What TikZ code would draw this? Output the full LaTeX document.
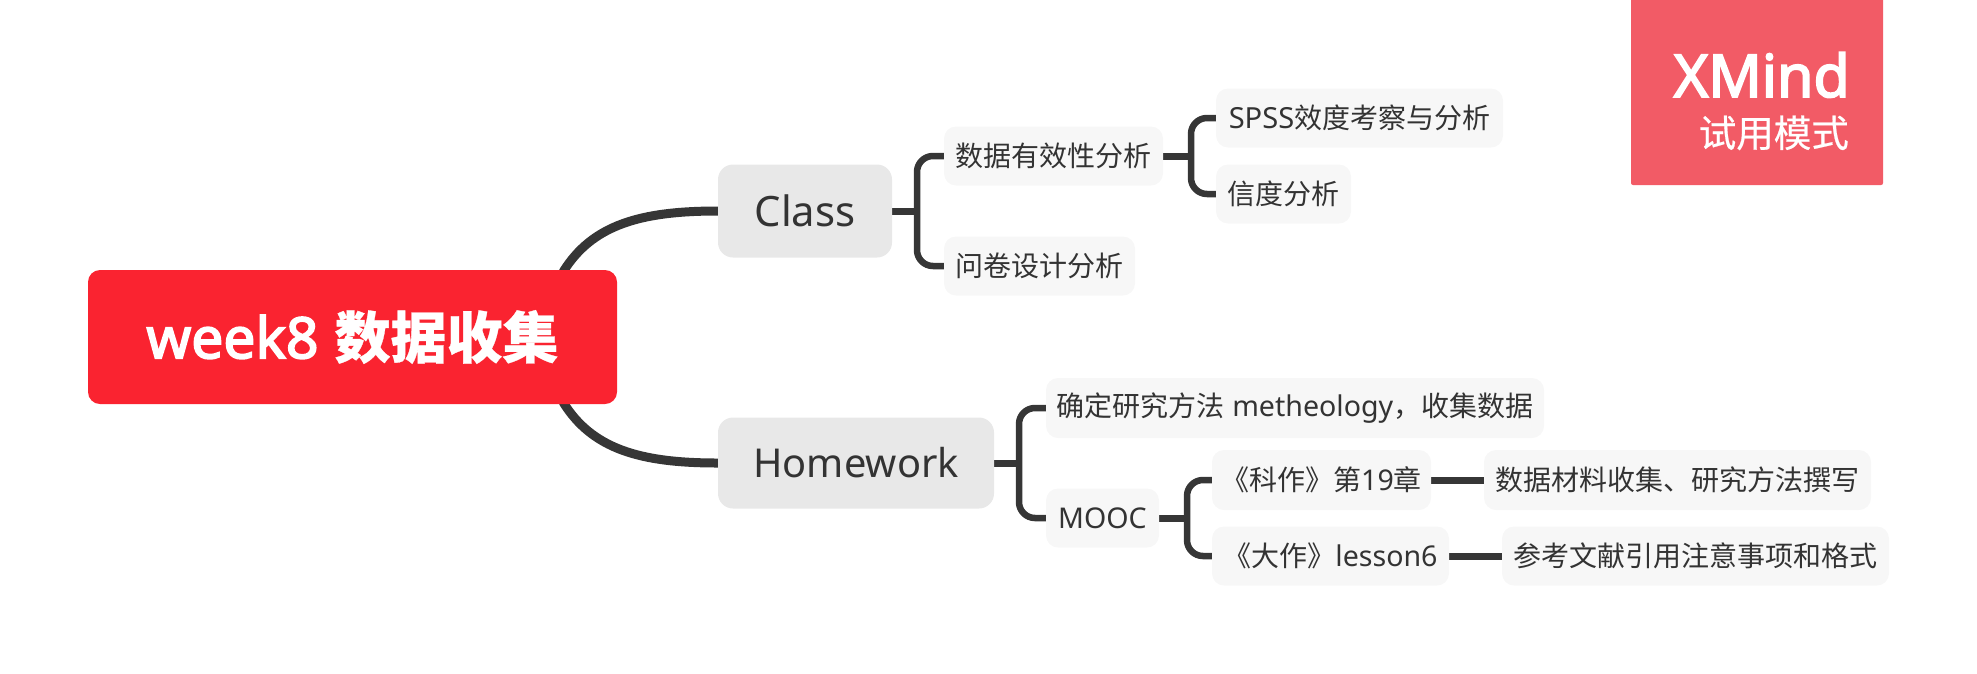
\documentclass[tikz,border=0pt]{standalone}
\usepackage{fontspec}
\usetikzlibrary{backgrounds}
\setmainfont{Noto Sans}[Scale=1.02]
\newfontfamily\cjk{Noto Sans CJK SC}
\newfontfamily\heavylat{Noto Sans}[FakeBold=3]
\newfontfamily\heavycjk{Noto Sans CJK SC}[FakeBold=0.5]
\newcommand{\fs}[1]{\fontsize{#1}{#1}\selectfont}
\definecolor{rootred}{HTML}{FA2330}
\definecolor{trialred}{HTML}{F25B66}
\definecolor{maingray}{HTML}{E8E8E8}
\definecolor{subgray}{HTML}{F7F7F7}
\definecolor{ink}{HTML}{333333}
\definecolor{wire}{HTML}{363636}
\tikzset{
  box/.style={inner sep=0pt,rounded corners=12pt,text=ink},
  rootbox/.style={box,fill=rootred,text=white,font=\fs{56}},
  mainbox/.style={box,fill=maingray,rounded corners=15pt},
  subbox/.style={box,fill=subgray,font=\fs{28}},
  conn/.style={draw=wire,line width=7pt},
  brace/.style={conn,line width=6.5pt,rounded corners=16pt},
  thick conn/.style={draw=wire,line width=9pt},
}
\begin{document}
\begin{tikzpicture}[x=1pt,y=-1pt]
\useasboundingbox (0,0) rectangle (1977,673);
\node[rootbox,minimum width=529,minimum height=134] (root) at (352.5,337) {{\heavylat\fs{57}week8}\hspace{16pt}{\heavycjk\bfseries\fs{56}数据收集}};
\node[mainbox,font=\fs{41},minimum width=174,minimum height=93] (class) at (805,211) {Class};
\node[mainbox,font=\fs{39},minimum width=276,minimum height=91] (home) at (856,463) {Homework};
\node[subbox,minimum width=219,minimum height=59] (valid) at (1053.5,156) {\cjk 数据有效性分析};
\node[subbox,minimum width=287,minimum height=59] (spss) at (1359.5,118) {\fs{28.5}SPSS{\cjk\fs{28}效度考察与分析}};
\node[subbox,minimum width=135,minimum height=59] (rel) at (1283.5,194) {\cjk 信度分析};
\node[subbox,minimum width=191,minimum height=59] (quest) at (1039.5,266) {\cjk 问卷设计分析};
\node[subbox,minimum width=498,minimum height=60] (method) at (1295,408) {{\cjk 确定研究方法} metheology{\cjk ，收集数据}};
\node[subbox,minimum width=113,minimum height=59] (mooc) at (1102.5,518) {MOOC};
\node[subbox,minimum width=219,minimum height=60] (ke) at (1321.5,480) {{\cjk 《科作》第}19{\cjk 章}};
\node[subbox,minimum width=387,minimum height=60] (ke2) at (1677.5,480) {\cjk 数据材料收集、研究方法撰写};
\node[subbox,minimum width=237,minimum height=59] (da) at (1330.5,556) {{\cjk 《大作》}lesson6};
\node[subbox,minimum width=387,minimum height=59] (da2) at (1695.5,556) {\cjk 参考文献引用注意事项和格式};
\fill[trialred,rounded corners=2pt] (1631,-6) rectangle (1883,185);
\node[anchor=base east,inner sep=0pt,text=white,font=\fs{59}\heavylat] (xm) at (1850,97) {XMind};
\node[anchor=base east,inner sep=0pt,text=white,font=\fs{37.5}\heavycjk] (tr) at (1849,147) {试用模式};
\coordinate (rt) at (563,272);
\coordinate (rb) at (563,402);
\coordinate (bc) at (917,211);
\coordinate (bv) at (1191,156);
\coordinate (bh) at (1019,463);
\coordinate (bm) at (1187,518);
\begin{pgfonlayer}{background}
\draw[thick conn] (rt) .. controls (592,225) and (640,211) .. (class.west);
\draw[thick conn] (rb) .. controls (592,449) and (640,463) .. (home.west);
\draw[conn] (class.east) -- (bc);
\draw[brace] (valid.west) -| (bc) |- (quest.west);
\draw[conn] (valid.east) -- (bv);
\draw[brace] (spss.west) -| (bv) |- (rel.west);
\draw[conn] (home.east) -- (bh);
\draw[brace] (method.west) -| (bh) |- (mooc.west);
\draw[conn] (mooc.east) -- (bm);
\draw[brace] (ke.west) -| (bm) |- (da.west);
\draw[conn] (ke.east) -- (ke2.west);
\draw[conn] (da.east) -- (da2.west);
\end{pgfonlayer}
\end{tikzpicture}
\end{document}
